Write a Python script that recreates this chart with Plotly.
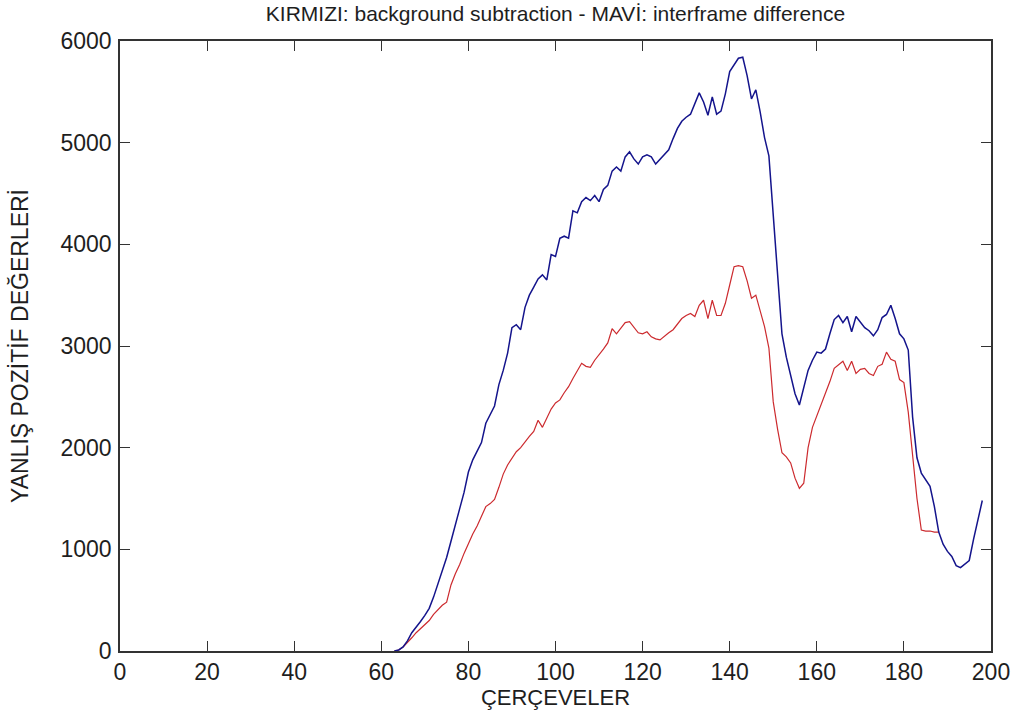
import plotly.graph_objects as go

# Blue: interframe difference (frames 63..198)
blue_start = 63
blue_values = [
    0, 10, 40, 100, 180, 230, 290, 350, 420, 530,
    660, 790, 920, 1080, 1230, 1400, 1560, 1760, 1880, 1960,
    2050, 2240, 2330, 2410, 2620, 2760, 2930, 3180, 3210, 3160,
    3380, 3500, 3580, 3660, 3700, 3650, 3900, 3880, 4060, 4080,
    4060, 4330, 4310, 4420, 4460, 4430, 4480, 4420, 4540, 4580,
    4720, 4760, 4720, 4860, 4910, 4840, 4790, 4860, 4880, 4860,
    4790, 4840, 4880, 4930, 5040, 5140, 5210, 5250, 5280, 5380,
    5490, 5400, 5270, 5450, 5280, 5310, 5480, 5700, 5770, 5830,
    5840, 5660, 5430, 5520, 5300, 5050, 4870, 4300, 3700, 3120,
    2890, 2720, 2530, 2420, 2600, 2760, 2860, 2940, 2930, 2970,
    3120, 3260, 3300, 3230, 3290, 3140, 3290, 3230, 3180, 3150,
    3100, 3160, 3280, 3310, 3400, 3270, 3120, 3070, 2960, 2300,
    1900, 1750, 1690, 1620, 1420, 1170, 1050, 980, 930, 840,
    820, 860, 890, 1100, 1300, 1480,
]

# Red: background subtraction (frames 63..188)
red_start = 63
red_values = [
    0, 10, 40, 80, 130, 180, 220, 260, 300, 360,
    410, 450, 480, 650, 760, 850, 960, 1060, 1150, 1230,
    1330, 1420, 1450, 1490, 1610, 1740, 1830, 1900, 1960, 2000,
    2060, 2110, 2160, 2270, 2200, 2290, 2380, 2440, 2470, 2540,
    2600, 2680, 2750, 2830, 2800, 2790, 2860, 2910, 2970, 3030,
    3170, 3120, 3180, 3230, 3240, 3180, 3130, 3120, 3140, 3090,
    3070, 3060, 3100, 3130, 3160, 3220, 3270, 3300, 3320, 3290,
    3400, 3450, 3270, 3450, 3300, 3300, 3420, 3600, 3780, 3790,
    3780, 3640, 3470, 3500, 3350, 3190, 2980, 2450, 2180, 1950,
    1910, 1850, 1700, 1600, 1650, 2000, 2200, 2310, 2420, 2520,
    2650, 2780, 2820, 2850, 2760, 2850, 2730, 2770, 2780, 2730,
    2710, 2800, 2820, 2940, 2870, 2850, 2670, 2640, 2350, 1950,
    1500, 1190, 1180, 1180, 1170, 1170,
]

title_text = "KIRMIZI: background subtraction - MAVİ: interframe difference"
x_label = "ÇERÇEVELER"
y_label = "YANLIŞ POZİTİF DEĞERLERİ"
x_ticks = [0, 20, 40, 60, 80, 100, 120, 140, 160, 180, 200]
y_ticks = [0, 1000, 2000, 3000, 4000, 5000, 6000]

blue_x = list(range(blue_start, blue_start + len(blue_values)))
red_x = list(range(red_start, red_start + len(red_values)))

FONT = "Liberation Sans, Arial, sans-serif"
TXT = "#1e1e1e"

fig = go.Figure()
fig.add_trace(go.Scatter(x=red_x, y=red_values, mode="lines",
                         line=dict(color="#cc2a2e", width=1.2),
                         name="background subtraction"))
fig.add_trace(go.Scatter(x=blue_x, y=blue_values, mode="lines",
                         line=dict(color="#14148c", width=1.5),
                         name="interframe difference"))

axis_common = dict(
    showline=True, linecolor="#333333", linewidth=1.5, mirror="allticks",
    ticks="inside", ticklen=10, tickwidth=1.3, tickcolor="#333333",
    showgrid=False, zeroline=False,
    tickfont=dict(family=FONT, size=23, color=TXT),
)

fig.update_layout(
    width=1022, height=724,
    margin=dict(l=120, r=31, t=41, b=73),
    paper_bgcolor="white", plot_bgcolor="white",
    showlegend=False,
    title=dict(text=title_text, x=0.5435, xanchor="center",
               y=1 - 14 / 724, yanchor="middle",
               font=dict(family=FONT, size=21, color=TXT)),
    xaxis=dict(range=[0, 200], tickvals=x_ticks,
               title=dict(text=x_label, standoff=2,
                          font=dict(family=FONT, size=22, color=TXT)),
               **axis_common),
    yaxis=dict(range=[0, 6000], tickvals=y_ticks, ticklabelstandoff=2,
               title=dict(text=y_label, standoff=25,
                          font=dict(family=FONT, size=23, color=TXT)),
               **axis_common),
)

fig.write_html("out.html", config={"displayModeBar": False},
               post_script="document.body.style.margin='0';")
